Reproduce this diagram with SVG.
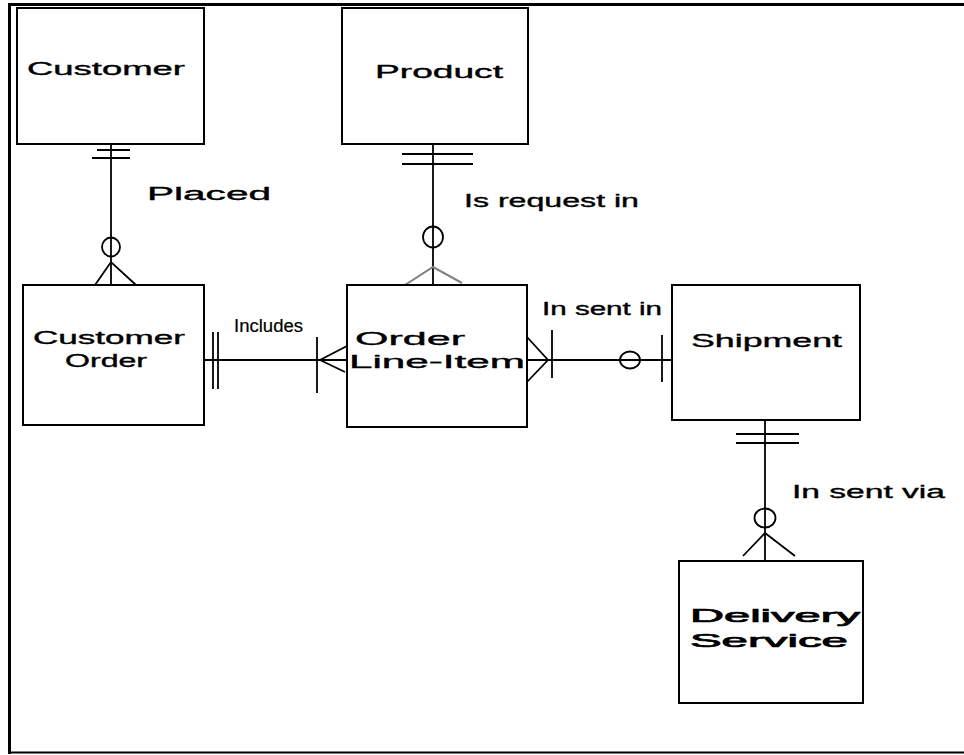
<svg xmlns="http://www.w3.org/2000/svg" width="964" height="755" viewBox="0 0 964 755">
<style>
.box{fill:#fff;stroke:#000;stroke-width:2}
.ln{fill:none;stroke:#000;stroke-width:1.8}
.gray{fill:none;stroke:#808080;stroke-width:2}
.t{font-family:"Liberation Sans",Arial,sans-serif;font-size:18px;fill:#000;stroke:#000;stroke-width:0.35}
.tb{font-family:"Liberation Sans",Arial,sans-serif;font-size:18px;fill:#000;stroke:#000;stroke-width:0.7}
.n{font-family:"Liberation Sans",Arial,sans-serif;font-size:18px;fill:#000;stroke:#000;stroke-width:0.2}
</style>
<rect x="0" y="0" width="964" height="755" fill="#fff"/>
<g id="frame">
<line x1="9.5" y1="3" x2="9.5" y2="754" stroke="#000" stroke-width="3"/>
<line x1="8" y1="4.5" x2="964" y2="4.5" stroke="#000" stroke-width="3"/>
<line x1="8" y1="752.5" x2="964" y2="752.5" stroke="#000" stroke-width="2"/>
</g>
<g id="connectors">
<!-- Customer - Customer Order -->
<line class="ln" x1="111" y1="144" x2="111" y2="285"/>
<line class="ln" x1="97" y1="150" x2="130" y2="150"/>
<line class="ln" x1="92" y1="158" x2="130" y2="158"/>
<ellipse class="ln" cx="111" cy="247" rx="9" ry="9.5"/>
<polyline class="ln" points="95,285 111,262 136,285"/>
<!-- Product - Order Line-Item -->
<line class="ln" x1="433" y1="144" x2="433" y2="285"/>
<line class="ln" x1="402" y1="154" x2="473" y2="154"/>
<line class="ln" x1="402" y1="164" x2="473" y2="164"/>
<ellipse class="ln" cx="433" cy="237" rx="10" ry="10.5"/>
<polyline class="gray" points="405,285 433,267 462,283"/>
<!-- Customer Order - Order Line-Item -->
<line class="ln" x1="204" y1="360" x2="347" y2="360"/>
<line class="ln" x1="213" y1="332" x2="213" y2="389"/>
<line class="ln" x1="218" y1="332" x2="218" y2="389"/>
<line class="ln" x1="317" y1="337" x2="317" y2="393"/>
<polyline class="ln" points="347,346 320,360 345,372"/>
<!-- Order Line-Item - Shipment -->
<line class="ln" x1="527" y1="360" x2="672" y2="360"/>
<polyline class="ln" points="527,337 548,360 527,382"/>
<line class="ln" x1="552" y1="330" x2="552" y2="378"/>
<ellipse class="ln" cx="630" cy="360" rx="10" ry="8.5" fill="#fff"/>
<line class="ln" x1="662" y1="335" x2="662" y2="382"/>
<!-- Shipment - Delivery Service -->
<line class="ln" x1="765" y1="420" x2="765" y2="562"/>
<line class="ln" x1="736" y1="434" x2="799" y2="434"/>
<line class="ln" x1="736" y1="443" x2="799" y2="443"/>
<ellipse class="ln" cx="765" cy="518" rx="10.5" ry="9.5"/>
<polyline class="ln" points="743,556 765,533 795,556"/>
</g>
<g id="labels">
<text class="t" x="147" y="200" textLength="124" lengthAdjust="spacingAndGlyphs">Placed</text>
<text class="t" x="464" y="207" textLength="175" lengthAdjust="spacingAndGlyphs">Is request in</text>
<text class="n" x="234" y="332" textLength="69" lengthAdjust="spacingAndGlyphs">Includes</text>
<text class="t" x="542" y="315" textLength="120" lengthAdjust="spacingAndGlyphs">In sent in</text>
<text class="t" x="792" y="498" textLength="153" lengthAdjust="spacingAndGlyphs">In sent via</text>
</g>
<g id="customer">
<rect class="box" x="17" y="8" width="187" height="136"/>
<text class="t" x="27" y="75" textLength="158" lengthAdjust="spacingAndGlyphs">Customer</text>
</g>
<g id="product">
<rect class="box" x="342" y="8" width="186" height="136"/>
<text class="t" x="375" y="78" textLength="128" lengthAdjust="spacingAndGlyphs">Product</text>
</g>
<g id="customer-order">
<rect class="box" x="23" y="285" width="181" height="140"/>
<text class="t" x="33" y="344" textLength="152" lengthAdjust="spacingAndGlyphs">Customer</text>
<text class="t" x="65" y="367" textLength="82" lengthAdjust="spacingAndGlyphs">Order</text>
</g>
<g id="order-line-item">
<rect class="box" x="347" y="285" width="180" height="142"/>
<text class="t" x="355" y="345" textLength="110" lengthAdjust="spacingAndGlyphs">Order</text>
<text class="t" x="349" y="368" textLength="176" lengthAdjust="spacingAndGlyphs">Line-Item</text>
</g>
<g id="shipment">
<rect class="box" x="672" y="285" width="188" height="135"/>
<text class="t" x="691" y="347" textLength="151" lengthAdjust="spacingAndGlyphs">Shipment</text>
</g>
<g id="delivery-service">
<rect class="box" x="679" y="561" width="184" height="142"/>
<text class="tb" x="690" y="622" textLength="170" lengthAdjust="spacingAndGlyphs">Delivery</text>
<text class="tb" x="690" y="647" textLength="158" lengthAdjust="spacingAndGlyphs">Service</text>
</g>
</svg>
